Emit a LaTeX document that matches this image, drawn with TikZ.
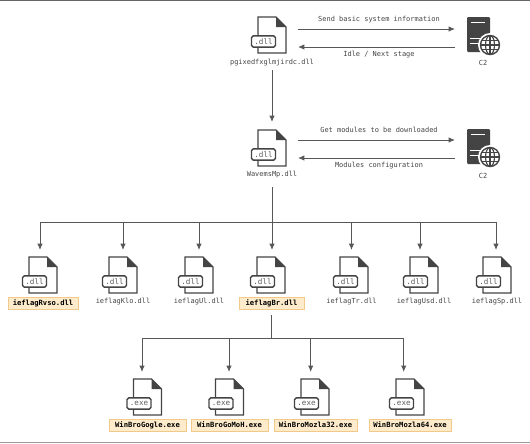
\documentclass[tikz,border=0pt]{standalone}
\usepackage{fontspec}
\setmonofont{DejaVu Sans Mono}
\usetikzlibrary{arrows.meta}

\definecolor{inkgray}{HTML}{444444}
\definecolor{hlfill}{HTML}{FDEBCB}
\definecolor{hledge}{HTML}{F1C988}

\tikzset{
  link/.style={-{Latex[length=4.5pt,width=3.8pt]}, line width=0.65pt, inkgray!90},
  busline/.style={line width=0.65pt, inkgray!90},
  msg/.style={text=inkgray, font=\fontsize{4.95}{6}\ttfamily},
  flabel/.style={text=inkgray, font=\fontsize{4.95}{6}\ttfamily, inner sep=0pt, minimum height=0.3cm},
  hlabel/.style={fill=hlfill, draw=hledge, line width=0.5pt, text=black, font=\fontsize{5.1}{6}\ttfamily\bfseries, inner sep=0pt, minimum height=0.3cm},
  pics/fileicon/.style={code={
    \draw[inkgray, line width=0.9pt, fill=white, line join=miter] (-14,0) -- (4,0) -- (14,10) -- (14,36) -- (-14,36) -- cycle;
    \fill[inkgray] (4,0) -- (14,10) -- (4,10) -- cycle;
    \node[draw=inkgray, fill=white, line width=1pt, rounded corners=1.2pt, minimum width=0.6cm, minimum height=0.28cm, inner sep=0pt, text=inkgray!85, font=\fontsize{5.4}{6}\ttfamily] at (-8.5,24.5) {#1};
  }},
  pics/serverglobe/.style={code={
    \fill[inkgray, rounded corners=0.8pt] (0,0) rectangle (23,35);
    \draw[white, line width=0.7pt] (4,5.5) -- (18,5.5);
    \draw[white, line width=0.7pt] (3,21) -- (15,21);
    \draw[white, line width=0.7pt] (3,26) -- (15,26);
    \fill[white] (23,28) circle (12);
    \draw[inkgray, line width=1pt] (23,28) circle (9.5);
    \draw[inkgray, line width=0.8pt] (23,28) ellipse (4.5 and 9.5);
    \draw[inkgray, line width=0.8pt] (23,18.5) -- (23,37.5);
    \draw[inkgray, line width=0.8pt] (13.5,28) -- (32.5,28);
    \draw[inkgray, line width=0.8pt] (15,23.5) -- (31,23.5);
    \draw[inkgray, line width=0.8pt] (15,32.5) -- (31,32.5);
  }},
}

\begin{document}
\begin{tikzpicture}[x=0.025cm, y=-0.025cm]
	\useasboundingbox (0,0) rectangle (530,443);
	\fill[black!60] (0,0) rectangle (530,1.2);
	\fill[black!40] (0,441.8) rectangle (530,443);

	% loader and first C2
	\pic (pgi) at (272,17) {fileicon={.dll}};
	\node[flabel] (pgilabel) at (272,63) {pgixedfxglmjirdc.dll};
	\pic at (467,17) {serverglobe};
	\node[flabel] (cc1label) at (483,63) {C2};
	\coordinate (sendl) at (298,29);
	\coordinate (sendr) at (455,29);
	\coordinate (idlel) at (298,47);
	\coordinate (idler) at (455,47);
	\node[msg] (sendmsg) at (379,20) {Send basic system information};
	\node[msg] (idlemsg) at (379,55) {Idle / Next stage};
	\draw[link] (sendl) -- (sendr);
	\draw[link] (idler) -- (idlel);

	% second stage and second C2
	\coordinate (wavemsin) at (272,122);
	\pic (wavems) at (272,130) {fileicon={.dll}};
	\node[flabel] (wavemslabel) at (272,175) {WavemsMp.dll};
	\pic at (467,129) {serverglobe};
	\node[flabel] (cc2label) at (483,176) {C2};
	\coordinate (getl) at (298,140);
	\coordinate (getr) at (455,140);
	\coordinate (cfgl) at (298,158);
	\coordinate (cfgr) at (455,158);
	\node[msg] (getmsg) at (379,130) {Get modules to be downloaded};
	\node[msg] (cfgmsg) at (379,166) {Modules configuration};
	\draw[link] (getl) -- (getr);
	\draw[link] (cfgr) -- (cfgl);
	\draw[link, shorten <=0.03cm] (pgilabel) -- (wavemsin);

	% dll row
	\coordinate (busdll) at (272,222);
	\coordinate (rvsoin) at (40,250);
	\coordinate (kloin) at (123,250);
	\coordinate (ulin) at (199,250);
	\coordinate (brin) at (272,250);
	\coordinate (trin) at (351.5,250);
	\coordinate (usdin) at (420,250);
	\coordinate (spin) at (496,250);

	\pic at (43,257) {fileicon={.dll}};
	\pic at (123,257) {fileicon={.dll}};
	\pic at (199,257) {fileicon={.dll}};
	\pic at (271,257) {fileicon={.dll}};
	\pic at (354,257) {fileicon={.dll}};
	\pic at (424,257) {fileicon={.dll}};
	\pic at (497,257) {fileicon={.dll}};

	\node[hlabel, minimum width=1.75cm] (rvsolabel) at (43,303) {ieflagRvso.dll};
	\node[flabel] (klolabel) at (123,302) {ieflagKlo.dll};
	\node[flabel] (ullabel) at (199,302) {ieflagUl.dll};
	\node[hlabel, minimum width=1.62cm] (brlabel) at (271.5,303) {ieflagBr.dll};
	\node[flabel] (trlabel) at (351.5,302) {ieflagTr.dll};
	\node[flabel] (usdlabel) at (424,302) {ieflagUsd.dll};
	\node[flabel] (splabel) at (497,302) {ieflagSp.dll};

	\draw[busline, shorten <=0.15cm] (wavemslabel) -- (busdll);
	\draw[busline] (rvsoin |- busdll) -- (spin |- busdll);
	\draw[link] (rvsoin |- busdll) -- (rvsoin);
	\draw[link] (kloin |- busdll) -- (kloin);
	\draw[link] (ulin |- busdll) -- (ulin);
	\draw[link] (brin |- busdll) -- (brin);
	\draw[link] (trin |- busdll) -- (trin);
	\draw[link] (usdin |- busdll) -- (usdin);
	\draw[link] (spin |- busdll) -- (spin);

	% exe row
	\coordinate (busexe) at (271.5,338);
	\coordinate (gogin) at (142,372);
	\coordinate (gomin) at (229,372);
	\coordinate (m32in) at (310.7,372);
	\coordinate (m64in) at (403.7,372);

	\pic at (147.5,379) {fileicon={.exe}};
	\pic at (229.5,379) {fileicon={.exe}};
	\pic at (315,379) {fileicon={.exe}};
	\pic at (410,379) {fileicon={.exe}};

	\node[hlabel, minimum width=1.93cm] (goglabel) at (147.5,425) {WinBroGogle.exe};
	\node[hlabel, minimum width=1.93cm] (gomlabel) at (229.5,425) {WinBroGoMoH.exe};
	\node[hlabel, minimum width=2.08cm] (m32label) at (315.5,425) {WinBroMozla32.exe};
	\node[hlabel, minimum width=2.05cm] (m64label) at (410,425) {WinBroMozla64.exe};

	\draw[busline, shorten <=0.15cm] (brlabel) -- (busexe);
	\draw[busline] (gogin |- busexe) -- (m64in |- busexe);
	\draw[link] (gogin |- busexe) -- (gogin);
	\draw[link] (gomin |- busexe) -- (gomin);
	\draw[link] (m32in |- busexe) -- (m32in);
	\draw[link] (m64in |- busexe) -- (m64in);
\end{tikzpicture}
\end{document}
